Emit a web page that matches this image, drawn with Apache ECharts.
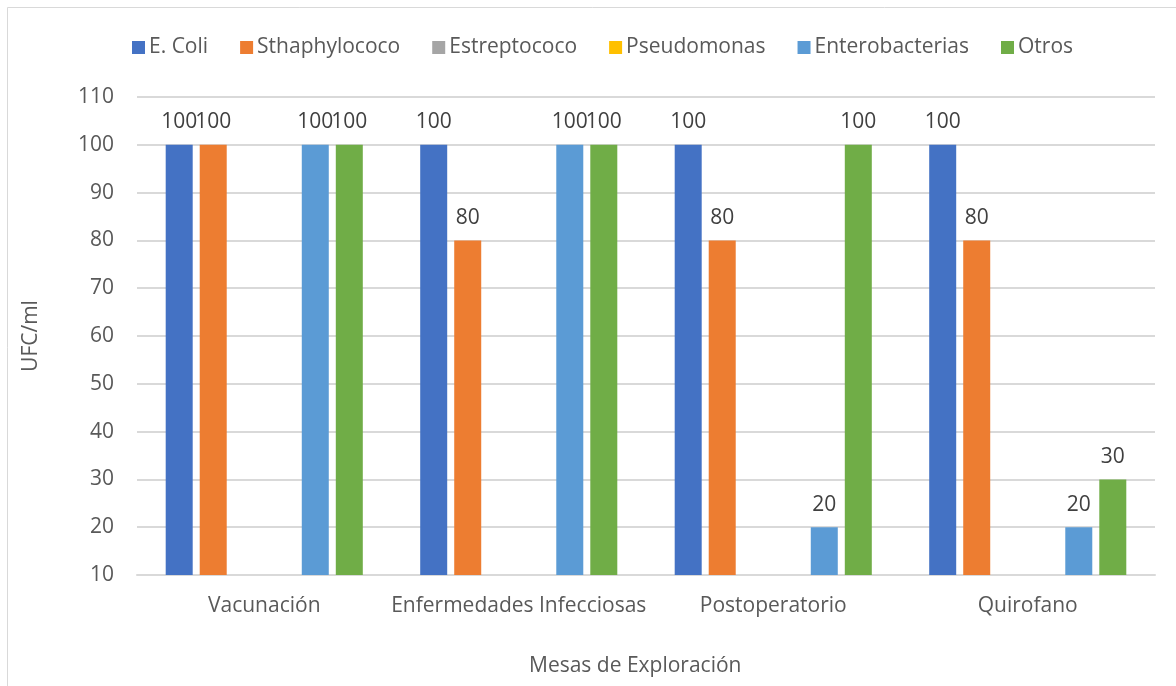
<!DOCTYPE html>
<html>
<head>
<meta charset="utf-8">
<script src="https://cdn.jsdelivr.net/npm/echarts@6/dist/echarts.min.js"></script>
<style>
  html, body { margin: 0; padding: 0; background: #ffffff; }
  #chart { width: 1176px; height: 686px; }
</style>
</head>
<body>
<div id="chart"></div>
<script>
// Sampling tables (categories) and colony counts per organism, in UFC/ml
const categories = ['Vacunación', 'Enfermedades Infecciosas', 'Postoperatorio', 'Quirofano'];
const eColi = [100, 100, 100, 100];
const sthaphylococo = [100, 80, 80, 80];
const estreptococo = [0, 0, 0, 0];
const pseudomonas = [0, 0, 0, 0];
const enterobacterias = [100, 100, 20, 20];
const otros = [100, 100, 100, 30];
const yTicks = [10, 20, 30, 40, 50, 60, 70, 80, 90, 100, 110];

const FONT = 'Open Sans';
const FS = 21;
const seriesDefs = [
  ['E. Coli', eColi, '#4472C4'],
  ['Sthaphylococo', sthaphylococo, '#ED7D31'],
  ['Estreptococo', estreptococo, '#A5A5A5'],
  ['Pseudomonas', pseudomonas, '#FFC000'],
  ['Enterobacterias', enterobacterias, '#5B9BD5'],
  ['Otros', otros, '#70AD47']
];

const chart = echarts.init(document.getElementById('chart'), null, { renderer: 'canvas' });

chart.setOption({
  backgroundColor: '#ffffff',
  animation: false,
  textStyle: { fontFamily: FONT },
  graphic: [{
    type: 'rect',
    shape: { x: 7.5, y: 7.5, width: 1200, height: 700 },
    style: { fill: 'none', stroke: '#D9D9D9', lineWidth: 1 },
    silent: true,
    z: -10
  }],
  title: {
    text: 'Mesas de Exploración',
    left: 524,
    top: 651,
    textStyle: { fontFamily: FONT, fontSize: FS, fontWeight: 'normal', color: '#595959' }
  },
  legend: {
    top: 32,
    left: 127,
    itemWidth: 13,
    itemHeight: 13,
    itemGap: 32,
    icon: 'rect',
    textStyle: { fontFamily: FONT, fontSize: FS, color: '#595959', padding: [0, 0, 0, -1] },
    data: seriesDefs.map(d => d[0])
  },
  grid: { left: 137, right: 21, top: 97, bottom: 111, containLabel: false },
  xAxis: {
    type: 'category',
    data: categories,
    axisLine: { show: true, lineStyle: { color: '#D9D9D9', width: 2 } },
    axisTick: { show: false },
    axisLabel: { interval: 0, fontFamily: FONT, fontSize: FS, color: '#595959', margin: 21 }
  },
  yAxis: {
    type: 'value',
    min: yTicks[0],
    max: yTicks[yTicks.length - 1],
    interval: 10,
    name: 'UFC/ml',
    nameLocation: 'middle',
    nameGap: 95,
    nameTextStyle: { fontFamily: FONT, fontSize: FS, color: '#595959' },
    axisLine: { show: false },
    axisTick: { show: false },
    axisLabel: { fontFamily: FONT, fontSize: FS, color: '#595959', margin: 23 },
    splitLine: { lineStyle: { color: '#D9D9D9', width: 2 } }
  },
  series: seriesDefs.map(([name, values, color]) => ({
    name: name,
    type: 'bar',
    data: values,
    barWidth: 27,
    barGap: '26%',
    itemStyle: { color: color },
    label: {
      show: true,
      position: 'top',
      distance: 12,
      fontFamily: FONT,
      fontSize: FS,
      color: '#404040',
      formatter: p => (p.value > 0 ? String(p.value) : '')
    }
  }))
});
</script>
</body>
</html>
